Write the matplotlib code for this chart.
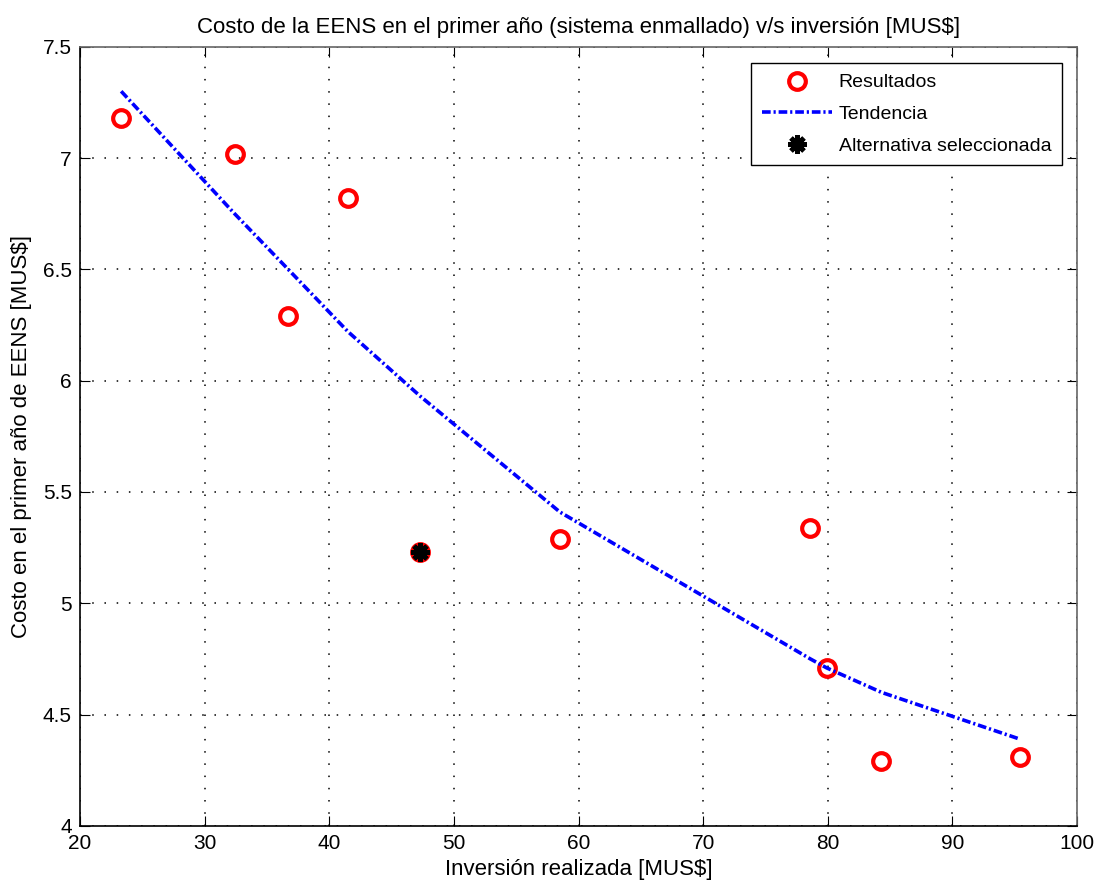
import matplotlib.pyplot as plt
import numpy as np

plt.rcParams['font.family'] = ['Liberation Sans', 'DejaVu Sans']

# datos
inversion = [23.3, 32.4, 41.5, 36.7, 47.3, 58.5, 78.6, 79.9, 84.3, 95.4]
costo_eens = [7.18, 7.02, 6.82, 6.29, 5.23, 5.29, 5.34, 4.71, 4.29, 4.31]

tend_x = [23.3, 32.4, 36.7, 41.5, 47.3, 58.5, 78.6, 79.9, 84.3, 95.4]
tend_y = [7.30, 6.75, 6.50, 6.22, 5.93, 5.41, 4.75, 4.71, 4.60, 4.39]

sel_x = [47.3]
sel_y = [5.23]

x_ticks = [20, 30, 40, 50, 60, 70, 80, 90, 100]
y_ticks = [4, 4.5, 5, 5.5, 6, 6.5, 7, 7.5]

fig = plt.figure(figsize=(11.07, 8.9), dpi=100)
ax = fig.add_axes([0.0723, 0.072, 0.9007, 0.8755])

ax.plot(inversion, costo_eens, 'o', color='red', markerfacecolor='none',
        markersize=12, markeredgewidth=3, label='Resultados')
ax.plot(tend_x, tend_y, color='blue', linewidth=2.6,
        linestyle=(0, (2.4, 0.8, 0.6, 0.8)), label='Tendencia')
ax.plot(sel_x, sel_y, linestyle='none', marker=(8, 2, 0), color='black',
        markersize=13, markeredgewidth=3.5, label='Alternativa seleccionada')

ax.set_xlim(20, 100)
ax.set_ylim(4, 7.5)
ax.set_xticks(x_ticks)
ax.set_yticks(y_ticks)
ax.set_xticklabels([str(t) for t in x_ticks])
ax.set_yticklabels(['4', '4.5', '5', '5.5', '6', '6.5', '7', '7.5'])
ax.tick_params(direction='in', top=True, right=True, labelsize=15, length=7, pad=6)
ax.grid(True, linestyle=(0, (1, 7)), color='black', linewidth=1.1)
ax.spines['left'].set_color('black')
ax.spines['bottom'].set_color('black')
ax.spines['top'].set_color('#666666')
ax.spines['right'].set_color('#666666')
for s in ax.spines.values():
    s.set_linewidth(1.2)

ax.set_title('Costo de la EENS en el primer año (sistema enmallado) v/s inversión [MUS$]',
             fontsize=16, pad=10)
ax.set_xlabel('Inversión realizada [MUS$]', fontsize=16, labelpad=4)
ax.set_ylabel('Costo en el primer año de EENS [MUS$]', fontsize=16, labelpad=8)

leg = ax.legend(loc='upper right', fontsize=14, fancybox=False, framealpha=1,
                edgecolor='black', handlelength=3.6, handletextpad=0.35,
                borderpad=0.55, labelspacing=0.72, borderaxespad=0,
                bbox_to_anchor=(0.985, 0.979))
leg.get_frame().set_linewidth(1.0)

fig.savefig('out.png', dpi=100)
